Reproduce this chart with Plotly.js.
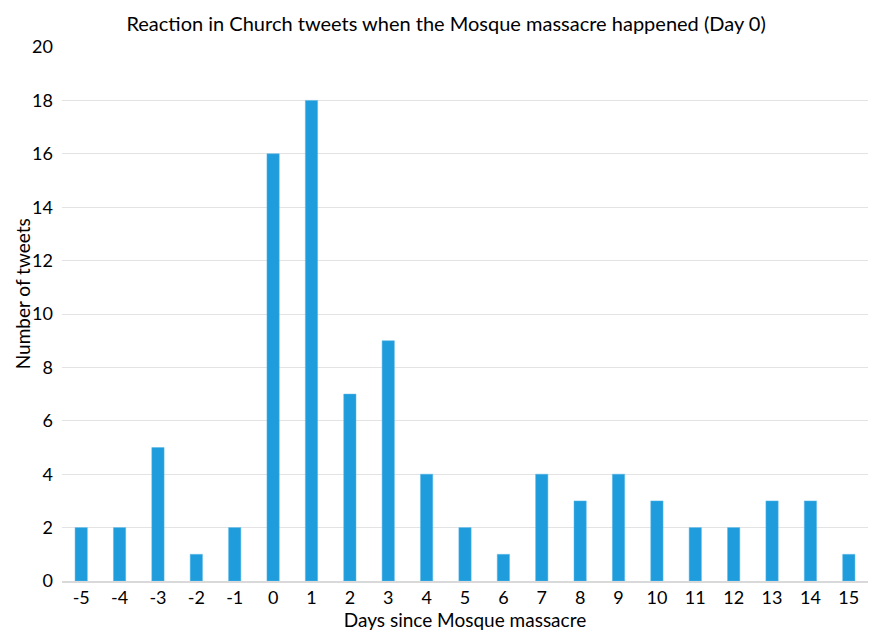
<!DOCTYPE html>
<html><head><meta charset="utf-8">
<script src="https://cdn.plot.ly/plotly-3.0.1.min.js"></script>
<style>html,body{margin:0;padding:0;background:#fff}#chart{width:873px;height:631px}</style>
</head><body><div id="chart"></div>
<script>
const days = ['-5','-4','-3','-2','-1','0','1','2','3','4','5','6','7','8','9','10','11','12','13','14','15'];
const tweets = [2,2,5,1,2,16,18,7,9,4,2,1,4,3,4,3,2,2,3,3,1];
const yTicks = [0,2,4,6,8,10,12,14,16,18,20];

const font = 'Lato, "Open Sans", sans-serif';
Plotly.newPlot('chart', [{
  type: 'bar', x: days, y: tweets,
  marker: {color: '#1f9cdb', line: {color: '#5ab8e8', width: 0.5}},
  width: 0.32, hoverinfo: 'x+y'
}], {
  width: 873, height: 631,
  margin: {l: 62, r: 5, t: 47, b: 50},
  paper_bgcolor: '#fff', plot_bgcolor: '#fff',
  font: {family: font, size: 17, color: '#000'},
  title: {text: 'Reaction in Church tweets when the Mosque massacre happened (Day 0)', x: 0.511, xanchor: 'center', y: 0.962, yanchor: 'middle', font: {family: font, size: 20, color: '#000'}},
  xaxis: {type: 'category', showgrid: false, showline: true, linecolor: '#d9d9d9', linewidth: 1.5, ticks: '', tickfont: {size: 18}, title: {text: 'Days since Mosque massacre', standoff: 4, font: {size: 19}}},
  yaxis: {range: [0, 20], tickvals: yTicks, showgrid: true, gridcolor: '#e3e3e3', gridwidth: 1, zeroline: false, ticks: '', ticklabelstandoff: 8, tickfont: {size: 18}},
  annotations: [{text: 'Number of tweets', xref: 'paper', yref: 'paper', x: -0.0496, y: 0.537, xanchor: 'center', yanchor: 'middle', textangle: -90, showarrow: false, font: {family: font, size: 19, color: '#000'}}],
  showlegend: false, bargap: 0.68
}, {displayModeBar: false, staticPlot: true});
</script></body></html>
